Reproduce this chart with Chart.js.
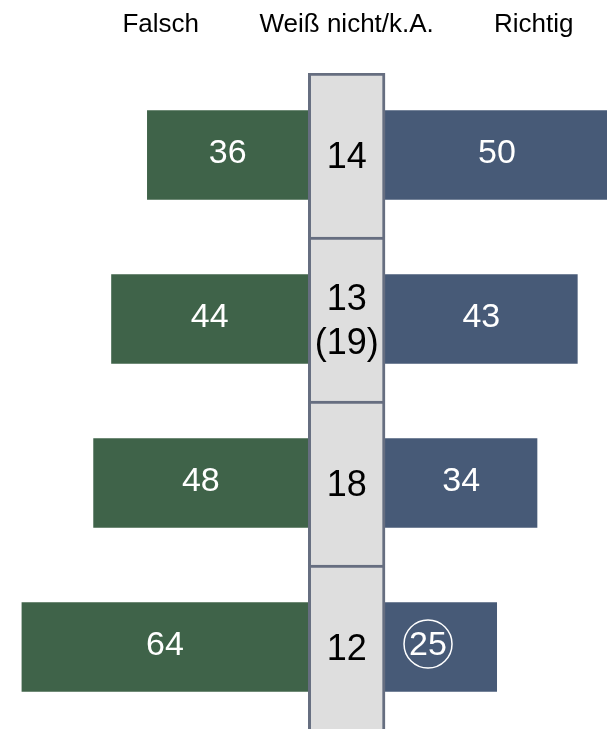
<!DOCTYPE html>
<html>
<head>
<meta charset="utf-8">
<script src="https://cdn.jsdelivr.net/npm/chart.js@4.4.1/dist/chart.umd.min.js"></script>
<style>
  html, body { margin: 0; padding: 0; background: #fff; }
  canvas { display: block; }
</style>
</head>
<body>
<canvas id="chart" width="607" height="729"></canvas>
<script>
// werte aus der grafik
var categories = ['Aussage 1', 'Aussage 2', 'Aussage 3', 'Aussage 4'];
var falsch = [36, 44, 48, 64];
var weissNicht = [14, 13, 18, 12];
var weissNichtKlammer = [null, 19, null, null];
var richtig = [50, 43, 34, 25];
var richtigMarkiert = [false, false, false, true];
var headers = ['Falsch', 'Weiß nicht/k.A.', 'Richtig'];

var GAP = 8.56; // halbe breite der mittleren spalte, in achsen-einheiten
var FONT = '"Liberation Sans", Arial, sans-serif';

var labelPlugin = {
  id: 'labels',
  afterDatasetsDraw: function (chart) {
    var ctx = chart.ctx;
    var x = chart.scales.x;
    var y = chart.scales.y;
    var mid = x.getPixelForValue(0);

    ctx.save();
    ctx.textAlign = 'center';
    ctx.textBaseline = 'middle';

    // kopfzeile
    ctx.fillStyle = '#000';
    ctx.font = '26px ' + FONT;
    ctx.fillText(headers[0], mid - 186, 25);
    ctx.fillText(headers[1], mid, 25);
    ctx.fillText(headers[2], mid + 187, 25);

    categories.forEach(function (c, i) {
      var cy = y.getPixelForValue(i);

      // falsch
      ctx.fillStyle = '#fff';
      ctx.font = '34px ' + FONT;
      var l0 = x.getPixelForValue(-GAP - falsch[i]);
      var l1 = x.getPixelForValue(-GAP);
      ctx.fillText(String(falsch[i]), (l0 + l1) / 2, cy - 1);

      // richtig
      var r0 = x.getPixelForValue(GAP);
      var r1 = x.getPixelForValue(GAP + richtig[i]);
      if (richtigMarkiert[i]) {
        var px = r0 + 43;
        ctx.fillText(String(richtig[i]), px, cy - 1);
        ctx.strokeStyle = '#fff';
        ctx.lineWidth = 1.5;
        ctx.beginPath();
        ctx.arc(px, cy - 3, 24, 0, Math.PI * 2);
        ctx.stroke();
      } else {
        ctx.fillText(String(richtig[i]), (r0 + r1) / 2, cy - 1);
      }

      // weiss nicht
      ctx.fillStyle = '#000';
      ctx.font = '36px ' + FONT;
      if (weissNichtKlammer[i] != null) {
        ctx.fillText(String(weissNicht[i]), mid, cy - 19);
        ctx.fillText('(' + weissNichtKlammer[i] + ')', mid, cy + 25);
      } else {
        ctx.fillText(String(weissNicht[i]), mid, cy + 3);
      }
    });
    ctx.restore();
  }
};

new Chart(document.getElementById('chart'), {
  type: 'bar',
  data: {
    labels: categories,
    datasets: [
      {
        label: 'Weiß nicht/k.A.',
        data: categories.map(function () { return [-GAP, GAP]; }),
        backgroundColor: '#DEDEDE',
        borderColor: '#666E80',
        borderWidth: { top: 3, left: 3, right: 3, bottom: 0 },
        borderSkipped: false,
        barPercentage: 1,
        categoryPercentage: 1,
        grouped: false,
        order: 0
      },
      {
        label: 'Falsch',
        data: falsch.map(function (v) { return [-GAP - v, -GAP]; }),
        backgroundColor: '#3F6349',
        barPercentage: 0.547,
        categoryPercentage: 1,
        grouped: false,
        order: 1
      },
      {
        label: 'Richtig',
        data: richtig.map(function (v) { return [GAP, GAP + v]; }),
        backgroundColor: '#475A77',
        barPercentage: 0.547,
        categoryPercentage: 1,
        grouped: false,
        order: 1
      }
    ]
  },
  options: {
    indexAxis: 'y',
    responsive: false,
    animation: false,
    layout: { padding: { top: 73, left: 0, right: 0, bottom: -2 } },
    plugins: {
      legend: { display: false },
      tooltip: { enabled: false }
    },
    scales: {
      x: { display: false, min: -77.38, max: 58.11 },
      y: { display: false, grid: { display: false } }
    }
  },
  plugins: [labelPlugin]
});
</script>
</body>
</html>
